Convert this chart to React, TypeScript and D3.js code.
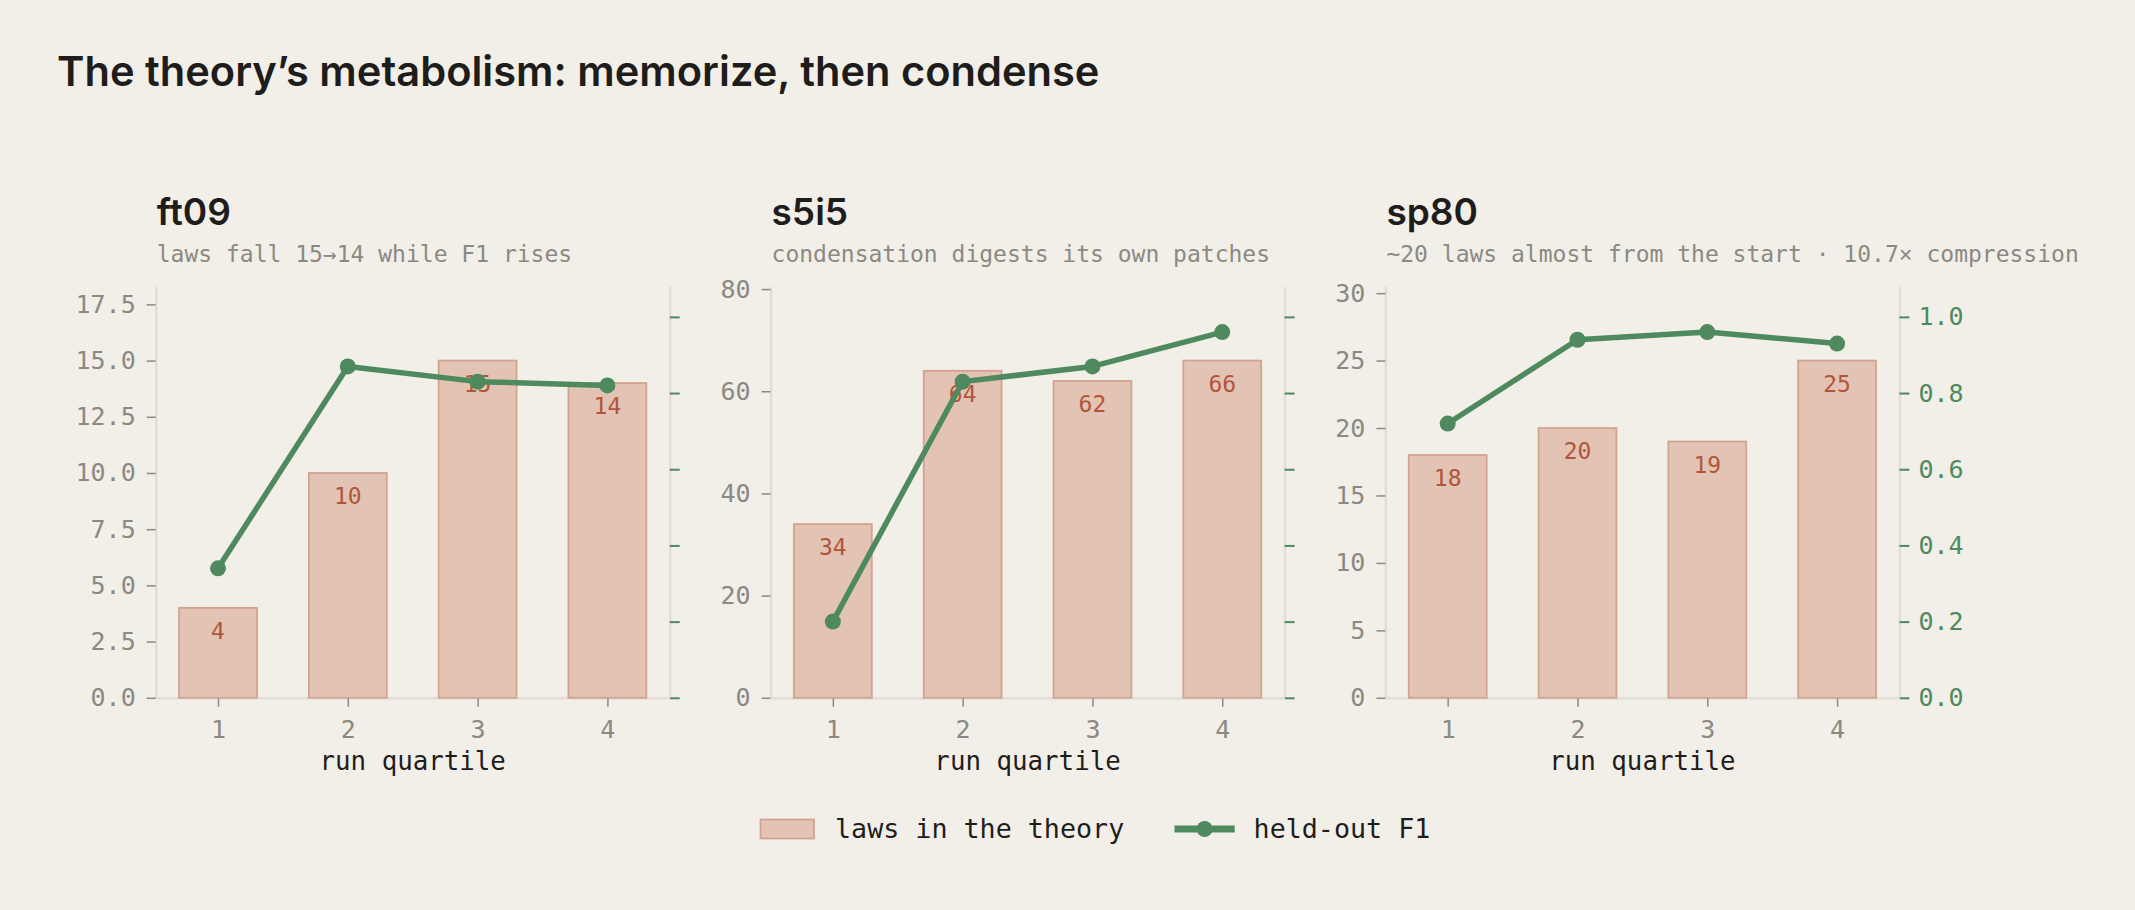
import * as d3 from 'd3';
import React, { useRef, useEffect } from 'react';

// run quartiles on the x axis
const quartiles = [1, 2, 3, 4];

// benchmark names and their one-line notes
const envNames = ['ft09', 's5i5', 'sp80'];
const envNotes = [
    'laws fall 15\u219214 while F1 rises',
    'condensation digests its own patches',
    '~20 laws almost from the start \u00b7 10.7\u00d7 compression',
];

// number of laws in the theory per quartile
const lawsFt09 = [4, 10, 15, 14];
const lawsS5i5 = [34, 64, 62, 66];
const lawsSp80 = [18, 20, 19, 25];

// held-out F1 per quartile
const f1Ft09 = [0.34, 0.87, 0.83, 0.82];
const f1S5i5 = [0.2, 0.83, 0.87, 0.96];
const f1Sp80 = [0.72, 0.94, 0.96, 0.93];

// tick labels
const lawTicksFt09 = [0, 2.5, 5, 7.5, 10, 12.5, 15, 17.5];
const lawTicksS5i5 = [0, 20, 40, 60, 80];
const lawTicksSp80 = [0, 5, 10, 15, 20, 25, 30];
const f1Ticks = [0, 0.2, 0.4, 0.6, 0.8, 1.0];

const BG = '#f2efe8';
const INK = '#1e1d1b';
const GRAY = '#8b8983';
const SPINE = '#e2ded5';
const BAR_FILL = '#e3c3b4';
const BAR_EDGE = '#d2a390';
const BAR_TEXT = '#b1563b';
const GREEN = '#4e8a5d';
const SANS = 'Inter, "Noto Sans", sans-serif';
const MONO = '"DejaVu Sans Mono", "Liberation Mono", monospace';

function Chart() {
    const ref = useRef(null);

    useEffect(() => {
        draw();
    }, []);

    const draw = () => {
        const W = 2135, H = 910;
        const svg = d3.select(ref.current)
        svg.selectAll('*').remove();
        svg.attr('width', W).attr('height', H)

        svg.append('rect').attr('width', W).attr('height', H).attr('fill', BG)

        // HEADER
        svg.append('text')
            .attr('x', 57)
            .attr('y', 86)
            .attr('font-family', SANS)
            .attr('font-weight', 600)
            .attr('font-size', 41.6)
            .attr('fill', INK)
            .text('The theory\u2019s metabolism: memorize, then condense')

        const panels = [
            { laws: lawsFt09, f1: f1Ft09, ticks: lawTicksFt09, fmt: d3.format('.1f') },
            { laws: lawsS5i5, f1: f1S5i5, ticks: lawTicksS5i5, fmt: d3.format('d') },
            { laws: lawsSp80, f1: f1Sp80, ticks: lawTicksSp80, fmt: d3.format('d') },
        ];

        const plotW = 514;
        const top = 286.4, bottom = 697.8;

        panels.forEach((p, i) => {
            const left = 155.7 + i * 614.85;
            const g = svg.append('g').attr('transform', `translate(${left}, 0)`)

            // Scales
            const x = d3.scaleLinear().domain([0.52, 4.48]).range([0, plotW])
            const yL = d3.scaleLinear().domain([0, d3.max(p.laws) * 1.22]).range([bottom, top])
            const yR = d3.scaleLinear().domain([0, 1.08]).range([bottom, top])

            // panel title + note
            g.append('text')
                .attr('x', 1)
                .attr('y', 225)
                .attr('font-family', SANS)
                .attr('font-weight', 600)
                .attr('font-size', 37)
                .attr('fill', INK)
                .text(envNames[i])
            g.append('text')
                .attr('x', 1)
                .attr('y', 262)
                .attr('font-family', MONO)
                .attr('font-size', 23)
                .attr('fill', GRAY)
                .text(envNotes[i])

            // DRAW AXES
            const yAxis = d3.axisLeft(yL)
                .tickValues(p.ticks)
                .tickFormat(p.fmt)
                .tickSize(9)
                .tickSizeOuter(0)
                .tickPadding(11)
            const yAxisDraw = g.append('g').call(yAxis)
            yAxisDraw.attr('font-family', MONO).attr('font-size', 25)
            yAxisDraw.select('.domain').attr('stroke', SPINE).attr('stroke-width', 2.5)
            yAxisDraw.selectAll('.tick line').attr('stroke', GRAY).attr('stroke-width', 1.5)
            yAxisDraw.selectAll('.tick text').attr('fill', GRAY)

            const yRAxis = d3.axisRight(yR)
                .tickValues(f1Ticks)
                .tickFormat(i === 2 ? d3.format('.1f') : () => '')
                .tickSize(10)
                .tickSizeOuter(0)
                .tickPadding(9)
            const yRDraw = g.append('g')
                .attr('transform', `translate(${plotW}, 0)`)
                .call(yRAxis)
            yRDraw.attr('font-family', MONO).attr('font-size', 25)
            yRDraw.select('.domain').attr('stroke', SPINE).attr('stroke-width', 2.5)
            yRDraw.selectAll('.tick line').attr('stroke', GREEN).attr('stroke-width', 2)
            yRDraw.selectAll('.tick text').attr('fill', GREEN)

            const xAxis = d3.axisBottom(x)
                .tickValues(quartiles)
                .tickFormat(d3.format('d'))
                .tickSize(9)
                .tickSizeOuter(0)
                .tickPadding(13)
            const xAxisDraw = g.append('g')
                .attr('transform', `translate(0, ${bottom})`)
                .call(xAxis)
            xAxisDraw.attr('font-family', MONO).attr('font-size', 25)
            xAxisDraw.select('.domain').attr('stroke', SPINE).attr('stroke-width', 2.5)
            xAxisDraw.selectAll('.tick line').attr('stroke', GRAY).attr('stroke-width', 1.5)
            xAxisDraw.selectAll('.tick text').attr('fill', GRAY)

            g.append('text')
                .attr('x', plotW / 2)
                .attr('y', 770)
                .attr('text-anchor', 'middle')
                .attr('font-family', MONO)
                .attr('font-size', 25.8)
                .attr('fill', INK)
                .text('run quartile')

            // DRAW CHART
            const rows = quartiles.map((q, k) => ({ q, laws: p.laws[k], f1: p.f1[k] }))

            g.selectAll('.bar')
                .data(rows)
                .enter()
                .append('rect')
                .attr('class', 'bar')
                .attr('x', d => x(d.q - 0.3))
                .attr('width', d => x(d.q + 0.3) - x(d.q - 0.3))
                .attr('y', d => yL(d.laws))
                .attr('height', d => bottom - yL(d.laws))
                .attr('fill', BAR_FILL)
                .attr('stroke', BAR_EDGE)
                .attr('stroke-width', 1.8)

            g.selectAll('.bar-label')
                .data(rows)
                .enter()
                .append('text')
                .attr('class', 'bar-label')
                .attr('x', d => x(d.q))
                .attr('y', d => yL(d.laws) + 31)
                .attr('text-anchor', 'middle')
                .attr('font-family', MONO)
                .attr('font-size', 23)
                .attr('fill', BAR_TEXT)
                .text(d => d.laws)

            const line = d3.line()
                .x(d => x(d.q))
                .y(d => yR(d.f1))

            g.append('path')
                .datum(rows)
                .attr('d', line)
                .attr('fill', 'none')
                .attr('stroke', GREEN)
                .attr('stroke-width', 5.5)
                .attr('stroke-linejoin', 'round')

            g.selectAll('.dot')
                .data(rows)
                .enter()
                .append('circle')
                .attr('class', 'dot')
                .attr('cx', d => x(d.q))
                .attr('cy', d => yR(d.f1))
                .attr('r', 8)
                .attr('fill', GREEN)
        })

        // LEGEND
        const legend = svg.append('g')
        legend.append('rect')
            .attr('x', 760.5)
            .attr('y', 819.5)
            .attr('width', 53.5)
            .attr('height', 19)
            .attr('fill', BAR_FILL)
            .attr('stroke', BAR_EDGE)
            .attr('stroke-width', 1.8)
        legend.append('text')
            .attr('x', 835)
            .attr('y', 838)
            .attr('font-family', MONO)
            .attr('font-size', 26.7)
            .attr('fill', INK)
            .text('laws in the theory')
        legend.append('line')
            .attr('x1', 1174.5)
            .attr('x2', 1234.7)
            .attr('y1', 829)
            .attr('y2', 829)
            .attr('stroke', GREEN)
            .attr('stroke-width', 7)
        legend.append('circle')
            .attr('cx', 1204.6)
            .attr('cy', 829)
            .attr('r', 8)
            .attr('fill', GREEN)
        legend.append('text')
            .attr('x', 1253.6)
            .attr('y', 838)
            .attr('font-family', MONO)
            .attr('font-size', 26.7)
            .attr('fill', INK)
            .text('held-out F1')
    }

    return (
        <svg ref={ref} style={{ position: 'absolute', left: 0, top: 0, display: 'block' }}></svg>
    )
}

export default function App() {
    return <Chart />;
}
